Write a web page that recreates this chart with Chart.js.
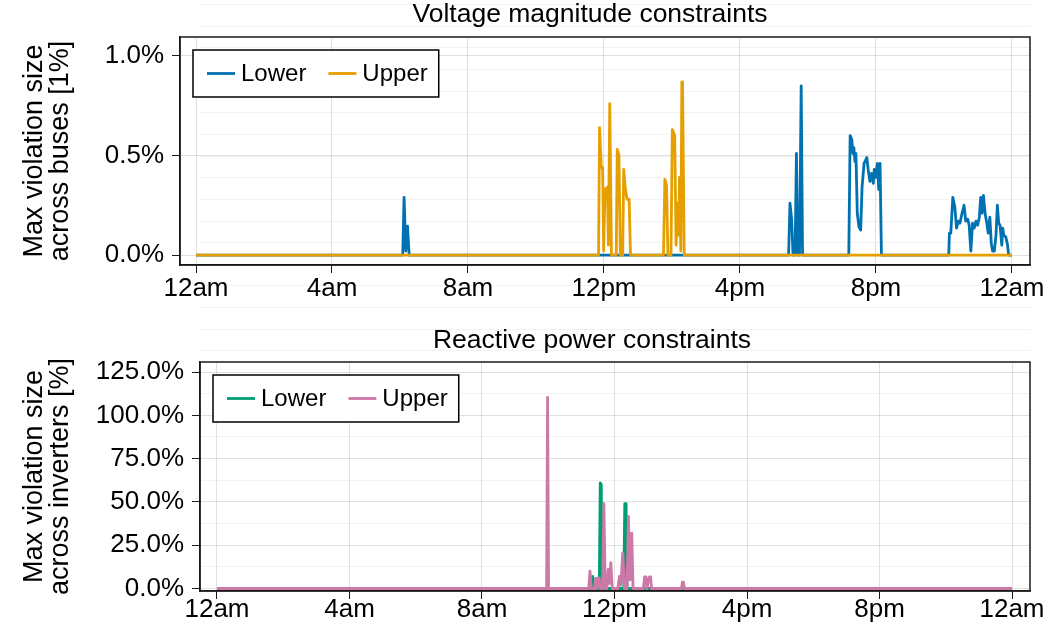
<!DOCTYPE html>
<html>
<head>
<meta charset="utf-8">
<script src="https://cdn.jsdelivr.net/npm/chart.js@4.4.1/dist/chart.umd.min.js"></script>
<style>
  html, body { margin: 0; padding: 0; background: #fff; }
  #wrap { position: relative; width: 1050px; height: 630px; }
  canvas { position: absolute; left: 0; top: 0; }
</style>
</head>
<body>
<div id="wrap">
  <canvas id="bottomChart" width="1050" height="630"></canvas>
  <canvas id="topChart" width="1050" height="315"></canvas>
</div>
<script>
const FONT = '"Liberation Sans", Arial, Helvetica, sans-serif';

// x axis (hours of the day)
const hourTicks = [0, 4, 8, 12, 16, 20, 24];
const hourLabels = ['12am', '4am', '8am', '12pm', '4pm', '8pm', '12am'];
const seriesNames = ['Lower', 'Upper'];

// voltage magnitude constraints (values in %)
const voltTicks = [0, 0.5, 1.0];
const voltLowerHours = [0, 6.08, 6.12, 6.17, 6.22, 6.27,
  17.43, 17.47, 17.52, 17.56, 17.62, 17.66, 17.70, 17.75, 17.80, 17.84,
  19.20, 19.24, 19.29, 19.32, 19.35, 19.38, 19.41, 19.45, 19.50, 19.55, 19.59, 19.65, 19.73, 19.77, 19.82, 19.87, 19.92, 19.95, 19.99, 20.04, 20.08, 20.12, 20.16,
  22.14, 22.16, 22.20, 22.26, 22.32, 22.37, 22.42, 22.47, 22.53, 22.59, 22.64, 22.70, 22.74, 22.79, 22.84, 22.89, 22.94, 22.99, 23.04, 23.08, 23.12, 23.16, 23.21, 23.26, 23.30, 23.35, 23.39, 23.43, 23.48, 23.53, 23.57, 23.61, 23.65, 23.70, 23.73, 23.76, 23.82, 23.87, 23.90, 24];
const voltLowerVals = [0, 0, 0.29, 0.02, 0.145, 0,
  0, 0.26, 0.18, 0, 0, 0.51, 0, 0, 0.85, 0,
  0, 0.60, 0.58, 0.51, 0.54, 0.47, 0.51, 0.21, 0.14, 0.125, 0.34, 0.46, 0.49, 0.43, 0.37, 0.41, 0.36, 0.43, 0.39, 0.46, 0.33, 0.46, 0,
  0, 0.11, 0.11, 0.29, 0.24, 0.135, 0.17, 0.16, 0.21, 0.25, 0.17, 0.18, 0.15, 0.02, 0.16, 0.135, 0.17, 0.15, 0.19, 0.29, 0.21, 0.30, 0.21, 0.16, 0.11, 0.19, 0.06, 0.02, 0.02, 0.10, 0.25, 0.16, 0.15, 0.05, 0.135, 0.10, 0.09, 0.05, 0, 0];
const voltUpperHours = [0, 11.84, 11.87, 11.92, 11.96, 11.99, 12.03, 12.10, 12.13, 12.17, 12.22,
  12.36, 12.39, 12.44, 12.48, 12.55, 12.58, 12.63, 12.68, 12.74, 12.78,
  13.75, 13.79, 13.84, 13.88, 13.97, 14.01, 14.08, 14.12, 14.17, 14.20, 14.22, 14.26, 14.29, 14.31, 14.36, 24];
const voltUpperVals = [0, 0, 0.64, 0.44, 0.44, 0.02, 0.33, 0.34, 0.05, 0.76, 0,
  0, 0.53, 0.50, 0, 0, 0.43, 0.33, 0.28, 0.28, 0,
  0, 0.38, 0.35, 0, 0, 0.63, 0.60, 0.05, 0.26, 0.10, 0.39, 0.02, 0.87, 0.87, 0, 0];

// reactive power constraints (values in %)
const reactTicks = [0, 25, 50, 75, 100, 125];
const reactMinorTicks = [12.5, 37.5, 62.5, 87.5, 112.5];
const reactLowerHours = [0, 11.30, 11.34, 11.37, 11.54, 11.57, 11.60, 11.63, 12.28, 12.31, 12.35, 12.38, 24];
const reactLowerVals = [0, 0, 7, 0, 0, 61, 60, 0, 0, 49, 49, 0, 0];
const reactUpperHours = [0, 9.95, 9.98, 10.01,
  11.22, 11.26, 11.30, 11.40, 11.43, 11.47, 11.50, 11.54, 11.57, 11.64, 11.68, 11.72, 11.77, 11.81, 11.85, 11.89, 11.93,
  12.10, 12.15, 12.19, 12.25, 12.30, 12.38, 12.42, 12.47, 12.52, 12.56,
  12.87, 12.91, 12.95, 12.98, 13.05, 13.09, 13.12,
  14.02, 14.05, 14.08, 14.11, 24];
const reactUpperVals = [0, 0, 110.4, 0,
  0, 10, 0, 0, 6, 0, 6, 6, 0, 0, 49, 0, 0, 11, 3, 15, 0,
  0, 7, 2, 20.6, 0, 0, 41.7, 5, 32, 0,
  0, 6.7, 6.7, 0, 6.7, 6.7, 0,
  0, 3.6, 3.6, 0, 0];

const colors = {
  volt: ['#0072B2', '#E69F00'],
  react: ['#009E73', '#CC79A7']
};

function toPoints(hours, vals) {
  return hours.map((h, i) => ({ x: h, y: vals[i] }));
}

// draws the title above the plot area
const plotTitle = {
  id: 'plotTitle',
  afterDraw(chart, args, opts) {
    const ctx = chart.ctx;
    ctx.save();
    ctx.font = '26.5px ' + FONT;
    ctx.fillStyle = '#000';
    ctx.textAlign = 'center';
    ctx.textBaseline = 'middle';
    ctx.fillText(opts.text, opts.x, opts.y);
    ctx.restore();
  }
};

// frame round the plot area
const frame = {
  id: 'frame',
  afterDraw(chart) {
    const a = chart.chartArea, ctx = chart.ctx;
    ctx.save();
    ctx.strokeStyle = '#1a1a1a';
    ctx.lineWidth = 1.5;
    ctx.strokeRect(a.left, a.top, a.right - a.left, a.bottom - a.top);
    ctx.restore();
  }
};

// legend inside the plot, with a box
const boxLegend = {
  id: 'boxLegend',
  afterDraw(chart) {
    const a = chart.chartArea, ctx = chart.ctx;
    const x0 = a.left + 13, y0 = a.top + 13, h = 47;
    ctx.save();
    ctx.font = '24px ' + FONT;
    const ds = chart.data.datasets;
    const widths = ds.map(d => ctx.measureText(d.label).width);
    const total = 14 + 28 + 6 + widths[0] + 22 + 28 + 6 + widths[1] + 11;
    ctx.fillStyle = '#fff';
    ctx.fillRect(x0, y0, total, h);
    ctx.strokeStyle = '#000';
    ctx.lineWidth = 1.5;
    ctx.strokeRect(x0, y0, total, h);
    let x = x0 + 14;
    const cy = y0 + h / 2;
    ds.forEach((d, i) => {
      ctx.strokeStyle = d.borderColor;
      ctx.lineWidth = 2.8;
      ctx.beginPath();
      ctx.moveTo(x, cy);
      ctx.lineTo(x + 28, cy);
      ctx.stroke();
      x += 34;
      ctx.fillStyle = '#000';
      ctx.textBaseline = 'middle';
      ctx.fillText(d.label, x, cy + 1);
      x += widths[i] + 22;
    });
    ctx.restore();
  }
};

// faint grid of the lower axis, continued over the whole figure
const longGrid = {
  id: 'longGrid',
  beforeDatasetsDraw(chart) {
    const a = chart.chartArea, ctx = chart.ctx, y = chart.scales.y;
    ctx.save();
    ctx.strokeStyle = 'rgba(0,0,0,0.05)';
    ctx.lineWidth = 1;
    for (let v = 137.5; ; v += 12.5) {
      const py = y.getPixelForValue(v);
      if (py < 0) break;
      ctx.beginPath();
      ctx.moveTo(a.left, Math.round(py) + 0.5);
      ctx.lineTo(a.right, Math.round(py) + 0.5);
      ctx.stroke();
    }
    ctx.restore();
  }
};

function makeChart(id, cfg) {
  // Upper is drawn over Lower
  const ds = [0, 1].map(i => ({
    label: seriesNames[i],
    data: toPoints(cfg.hours[i], cfg.vals[i]),
    borderColor: cfg.colors[i],
    borderWidth: 2.8,
    pointRadius: 0,
    tension: 0,
    borderJoinStyle: 'round',
    fill: false,
    order: 1 - i
  }));
  const yTicks = cfg.yTicks.concat(cfg.yMinor || []).sort((p, q) => p - q);
  return new Chart(document.getElementById(id), {
    type: 'line',
    data: { datasets: ds },
    options: {
      responsive: false,
      animation: false,
      layout: { padding: { top: cfg.top, right: 20, left: 0, bottom: 0 } },
      plugins: {
        legend: { display: false },
        tooltip: { enabled: false },
        plotTitle: { text: cfg.title, x: cfg.titleX, y: cfg.titleY }
      },
      scales: {
        x: {
          type: 'linear',
          min: cfg.xMin,
          max: cfg.xMax,
          afterBuildTicks: s => { s.ticks = hourTicks.map(v => ({ value: v })); },
          afterFit: s => { s.height = cfg.xAxisH; },
          ticks: {
            callback: (v, i) => hourLabels[i],
            font: { family: FONT, size: 26 },
            color: '#000',
            padding: cfg.xPad,
            maxRotation: 0,
            autoSkip: false
          },
          grid: { color: 'rgba(0,0,0,0.12)', tickColor: '#1a1a1a', tickLength: 8 },
          border: { display: true, color: '#1a1a1a', width: 1.5 }
        },
        y: {
          type: 'linear',
          min: cfg.yMin,
          max: cfg.yMax,
          afterBuildTicks: s => { s.ticks = yTicks.map(v => ({ value: v })); },
          afterFit: s => { s.width = cfg.yAxisW; },
          ticks: {
            callback: v => cfg.yTicks.includes(v) ? v.toFixed(1) + '%' : '',
            font: { family: FONT, size: 26 },
            color: '#000',
            padding: 8,
            autoSkip: false
          },
          grid: {
            color: c => cfg.yTicks.includes(c.tick && c.tick.value) ? 'rgba(0,0,0,0.12)' : 'rgba(0,0,0,0.05)',
            tickColor: c => cfg.yTicks.includes(c.tick && c.tick.value) ? '#1a1a1a' : 'rgba(0,0,0,0)',
            tickLength: 8
          },
          border: { display: true, color: '#1a1a1a', width: 1.5 },
          title: {
            display: true,
            text: cfg.yTitle,
            font: { family: FONT, size: 27, lineHeight: 26 / 27 },
            color: '#000',
            padding: { top: 22, bottom: 0 }
          }
        }
      }
    },
    plugins: cfg.plugins
  });
}

makeChart('bottomChart', {
  title: 'Reactive power constraints', titleX: 592, titleY: 341,
  hours: [reactLowerHours, reactUpperHours],
  vals: [reactLowerVals, reactUpperVals],
  colors: colors.react,
  top: 362, xAxisH: 39, yAxisW: 200, xPad: -5,
  xMin: -0.513, xMax: 24.543,
  yMin: -1.44, yMax: 130.8,
  yTicks: reactTicks, yMinor: reactMinorTicks,
  yTitle: ['Max violation size', 'across inverters [%]'],
  plugins: [longGrid, frame, boxLegend, plotTitle]
});

makeChart('topChart', {
  title: 'Voltage magnitude constraints', titleX: 590, titleY: 15,
  hours: [voltLowerHours, voltUpperHours],
  vals: [voltLowerVals, voltUpperVals],
  colors: colors.volt,
  top: 37, xAxisH: 50, yAxisW: 180, xPad: 0,
  xMin: -0.4706, xMax: 24.53,
  yMin: -0.05, yMax: 1.095,
  yTicks: voltTicks,
  yTitle: ['Max violation size', 'across buses [1%]'],
  plugins: [frame, boxLegend, plotTitle]
});
</script>
</body>
</html>
